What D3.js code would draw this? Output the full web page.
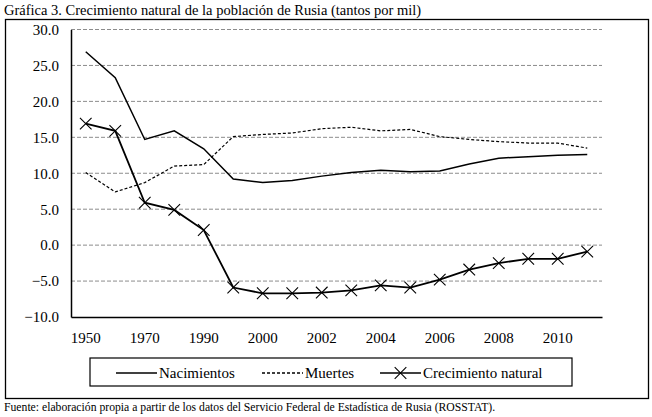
<!DOCTYPE html>
<html>
<head>
<meta charset="utf-8">
<script src="https://cdn.jsdelivr.net/npm/d3@7"></script>
<style>
body{margin:0;background:#fff;}
svg text{font-family:"Liberation Serif","Times New Roman",Times,"DejaVu Serif",serif !important;fill:#000;}
</style>
</head>
<body>
<script>
// datos
const years=["1950","1960","1970","1980","1990","1995","2000","2001","2002","2003","2004","2005","2006","2007","2008","2009","2010","2011"];
const nacimientos=[26.9,23.3,14.7,15.9,13.4,9.2,8.7,9.0,9.6,10.1,10.4,10.2,10.3,11.3,12.1,12.3,12.5,12.6];
const muertes=[10.1,7.4,8.7,11.0,11.2,15.1,15.4,15.6,16.2,16.4,15.9,16.1,15.1,14.7,14.4,14.2,14.2,13.5];
const crecimiento=[16.9,15.9,5.9,4.9,2.1,-5.9,-6.7,-6.7,-6.6,-6.3,-5.6,-5.9,-4.8,-3.4,-2.5,-1.9,-1.9,-0.9];
const yTicks=[-10,-5,0,5,10,15,20,25,30];
const xLabels=["1950","1970","1990","2000","2002","2004","2006","2008","2010"];

const w=652,h=417;
const plotL=71,plotR=602,plotT=29.5,plotB=317;
const serif='"Liberation Serif","Times New Roman",Times,"DejaVu Serif",serif';

const svg=d3.select("body").append("svg")
  .attr("width",w).attr("height",h);

svg.append("text").attr("x",4).attr("y",15).attr("font-size",14.5)
  .text("Gráfica 3. Crecimiento natural de la población de Rusia (tantos por mil)");

//marco exterior
svg.append("rect").attr("x",5.5).attr("y",19.5).attr("width",643).attr("height",379)
  .attr("fill","none").attr("stroke","#000").attr("stroke-width",1.3);

const x=d3.scaleBand().domain(years).range([plotL,plotR]);
const y=d3.scaleLinear().domain([-10,30]).range([plotB,plotT]);
const cx=d=>x(d)+x.bandwidth()/2;

//rejilla
svg.append("g").selectAll("line").data(yTicks.filter(d=>d>-10)).enter().append("line")
  .attr("x1",plotL).attr("x2",plotR).attr("y1",d=>y(d)).attr("y2",d=>y(d))
  .attr("stroke","#8c8c8c").attr("stroke-dasharray","4,2").attr("stroke-width",1);

const yAxis=d3.axisLeft(y).tickValues(yTicks).tickSize(0).tickPadding(12).tickFormat(d3.format(".1f"));
const gy=svg.append("g").attr("transform","translate("+plotL+",0)").call(yAxis);
gy.attr("font-family",serif);
gy.select(".domain").attr("stroke","#000").attr("stroke-width",1.5);
gy.selectAll("text").attr("font-size",15);

const xAxis=d3.axisBottom(x).tickValues(xLabels).tickSize(0).tickPadding(15);
const gx=svg.append("g").attr("transform","translate(0,"+plotB+")").call(xAxis);
gx.attr("font-family",serif);
gx.select(".domain").attr("stroke","#000").attr("stroke-width",1.5);
gx.selectAll("text").attr("font-size",15);

const line=d3.line().x((d,i)=>cx(years[i])).y(d=>y(d));

svg.append("path").datum(muertes).attr("d",line).attr("fill","none")
  .attr("stroke","#000").attr("stroke-width",1.2).attr("stroke-dasharray","3,2");
svg.append("path").datum(nacimientos).attr("d",line).attr("fill","none")
  .attr("stroke","#000").attr("stroke-width",1.5);
svg.append("path").datum(crecimiento).attr("d",line).attr("fill","none")
  .attr("stroke","#000").attr("stroke-width",1.8);

const cross=d3.symbol().type(d3.symbolX).size(90);
svg.append("g").selectAll("path").data(crecimiento).enter().append("path")
  .attr("d",cross).attr("transform",(d,i)=>"translate("+cx(years[i])+","+y(d)+")")
  .attr("fill","none").attr("stroke","#000").attr("stroke-width",1.1);

//leyenda
const lg=svg.append("g");
lg.append("rect").attr("x",90).attr("y",358).attr("width",482).attr("height",28)
  .attr("fill","none").attr("stroke","#000").attr("stroke-width",1.2);
const items=[
  {name:"Nacimientos",x1:116,dash:null,mark:false},
  {name:"Muertes",x1:262,dash:"3,2",mark:false},
  {name:"Crecimiento natural",x1:380,dash:null,mark:true}
];
items.forEach(it=>{
  lg.append("line").attr("x1",it.x1).attr("x2",it.x1+41).attr("y1",373).attr("y2",373)
    .attr("stroke","#000").attr("stroke-width",1.5).attr("stroke-dasharray",it.dash);
  if(it.mark) lg.append("path").attr("d",cross).attr("transform","translate("+(it.x1+20.5)+",373)")
    .attr("fill","none").attr("stroke","#000").attr("stroke-width",1.1);
  lg.append("text").attr("x",it.x1+43).attr("y",378).attr("font-size",15).text(it.name);
});

svg.append("text").attr("x",4).attr("y",411).attr("font-size",11.7)
  .text("Fuente: elaboración propia a partir de los datos del Servicio Federal de Estadística de Rusia (ROSSTAT).");
</script>
</body>
</html>
